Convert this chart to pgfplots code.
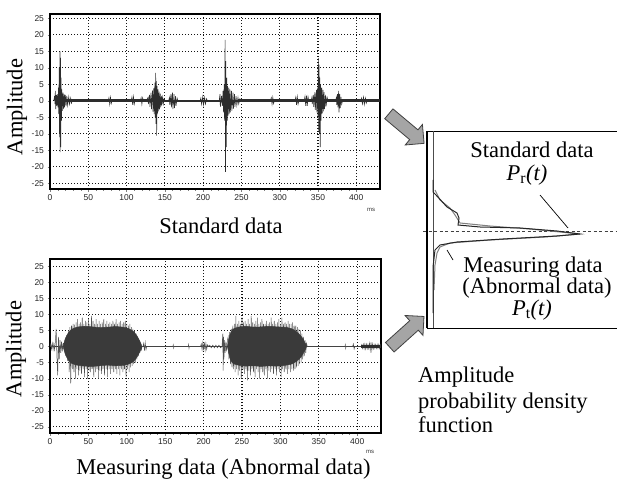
\documentclass[border=0pt]{standalone}
\usepackage{pgfplots}
\pgfplotsset{compat=1.18}
\usepackage{fontspec}
\setmainfont{Liberation Serif}
\newfontfamily\tickfont{Liberation Sans}
\usetikzlibrary{shapes.arrows}

\definecolor{wave}{RGB}{45,45,45}
\definecolor{wavelight}{RGB}{80,80,80}
\definecolor{wavecore}{RGB}{58,58,58}
\definecolor{arrowgray}{RGB}{165,165,165}
\definecolor{gridc}{RGB}{20,20,20}

\newcommand\lbl{\fontsize{22.5}{26}\selectfont}

\pgfplotsset{
  wave axis/.style={
    scale only axis,
    xmin=0, xmax=431,
    xtick={0,50,...,400},
    ytick={-25,-20,...,25},
    minor x tick num=4,
    tick pos=left,
    tick align=outside,
    major tick length=2.5pt,
    minor tick length=1.5pt,
    axis line style={black, line width=1.1pt},
    grid=major,
    major grid style={gridc, line width=1.1pt, dash pattern=on 1.4pt off 1.6pt},
    tick label style={font=\tickfont\fontsize{8.5}{8.5}\selectfont, text=black!85},
    /pgf/number format/assume math mode=true,
  },
}

\begin{document}
\begin{tikzpicture}
\useasboundingbox (0pt,0pt) rectangle (617pt,480pt);

% ---- standard data (top) ----
\begin{axis}[wave axis, at={(50pt,291pt)}, anchor=south west,
  width=330pt, height=175pt, ymin=-26.7, ymax=26.3]
\addplot[wave, line width=3.2pt] coordinates {(6,0) (150,0)};
\addplot[wave, line width=3.2pt] coordinates {(245,0) (431,0)};
\addplot[wave, line width=1.4pt] coordinates {(150,0) (245,0)};
\addplot[wave, line width=0.6pt] coordinates {
 (5,0) (6,1.5) (6.5,-1) (7,3) (7.5,-2.5) (8.5,1.8) (9,-1.5) (10,2) (10.5,-2) (11,4) (11.5,-4)
 (12,10) (12.5,-11) (13,15) (13.3,-15.5) (13.7,13) (14,-14) (14.5,7) (15,-6) (15.5,3.5) (16,-3)
 (17,2.5) (17.5,-2.5) (18.5,2) (19,-2) (20,1.8) (21,-1.6) (22,1.5) (23,-1.3) (24.5,1.2) (25.5,-1)
 (27,0.8) (28,-0.7) (29,0)
 (76,0) (77,0.9) (78,-1) (79,1) (80,-0.8) (81,0)
 (106,0) (107,1.1) (108,-1.2) (109,1.2) (110,-1) (111,0)
 (118,0) (119,0.9) (120,-1) (121,0.9) (122,0)
 (126,0) (128,1) (128.5,-1) (130,1.8) (130.5,-1.8) (132,2.5) (132.5,-2.5) (134,3.2) (134.5,-3.3)
 (135.5,3.8) (136,-4) (137,5.5) (137.5,-5) (138,8.5) (138.5,-7) (139,6) (139.3,-10.5) (139.8,4.5)
 (140.3,-4) (141,3.5) (141.5,-3.2) (142.5,2.8) (143,-2.6) (144,2.2) (144.5,-2) (145.5,1.5)
 (146,-1.4) (147,1) (148,-0.9) (149,0.6) (150,0)
 (155,0) (156,1) (156.5,-1.2) (158,2) (158.5,-2) (160,2.5) (160.5,-2.5) (162,2) (162.5,-2.2)
 (164,1.4) (164.5,-1.5) (166,0.8) (167,0)
 (196,0) (197,0.8) (198,-1) (199.5,1.2) (200.5,-1.2) (202,1) (203,-0.9) (204.5,0.6) (205.5,0)
 (221,0) (222,2) (222.5,-1.8) (224,1.5) (225,-1.5) (226,3) (226.5,-3.5) (227.5,5) (228,-6)
 (228.7,18.5) (229.2,-21.5) (229.7,12) (230.2,-14) (231,7) (231.5,-6) (232,4.5) (232.5,-4.5)
 (233.5,4) (234,-4) (235,3.5) (235.5,-3.5) (237,3) (237.5,-3) (239,2.5) (239.5,-2.4) (241,2)
 (241.5,-1.8) (243,1.4) (244,-1.3) (245.5,1) (246.5,-0.9) (248,0.6) (249,0)
 (288,0) (289,0.9) (290,-1) (291,1) (292,-0.8) (293,0)
 (320,0) (321,1.1) (322,-1.2) (323,1.2) (324,-1) (325,0)
 (332,0) (333,1.3) (334,-1.5) (335,1.6) (336,-1.5) (337,1.2) (338,0)
 (341,0) (342,1) (342.5,-1) (344,1.8) (344.5,-1.8) (346,2.6) (346.5,-2.7) (348,3.3) (348.5,-3.5)
 (349.5,4) (350,-4.5) (350.5,13) (351,-9) (351.5,11) (352,-10) (352.5,7) (353,-14) (353.5,5)
 (354,-6) (355,4) (355.5,-3.8) (356.5,3.3) (357,-3.2) (358,2.6) (358.5,-2.5) (360,1.8)
 (360.5,-1.7) (362,1) (363,0)
 (373,0) (374,1) (374.5,-1.2) (375.5,2) (376,-2) (377,3) (377.5,-3.5) (378.5,2) (379,-2.2)
 (380,1.2) (381,-1) (382,0)
 (406,0) (407,0.8) (408,-0.9) (409.5,1.1) (410.5,-1.1) (412,0.8) (413,-0.7) (414,0)
};
\end{axis}

% ---- measuring data (bottom) ----
\begin{axis}[wave axis, at={(50pt,47pt)}, anchor=south west,
  width=331pt, height=174pt, ymin=-26.9, ymax=27.2]
\addplot[wave, line width=1.4pt] coordinates {(0,0) (431,0)};
\addplot[wavelight, line width=0.5pt] coordinates {
 (0,0) (1,0.8) (2,-0.8) (3,1) (4,-1) (5,0.8) (6,-1) (7,1.5) (8,5.5) (9,-3) (10,-9) (11,3) (12,-4)
 (13,2) (14,-2) (15,1.5) (16,-1.5) (17,1)
 (18,1) (19,-1.5) (20,2.5) (21,-3) (22,3.5) (23,-4.5) (24,5) (25,-8) (26,6) (27,-11.5) (28,6.5)
 (29,-7) (30,7) (31,-8) (32,6.8) (33,-10) (34,7.5) (35,-7) (36,8.5) (37,-9) (38,7) (39,-7.5)
 (40,7.5) (41,-8.5) (42,9) (43,-7) (44,7) (45,-9.5) (46,8) (47,-7) (48,7.5) (49,-10) (50,8.5)
 (51,-7.5) (52,7) (53,-8) (54,9.5) (55,-7) (56,8) (57,-9.5) (58,7) (59,-8) (60,8.5) (61,-7)
 (62,7) (63,-10) (64,8) (65,-7.5) (66,7) (67,-8.5) (68,7.5) (69,-7) (70,8.5) (71,-9) (72,7)
 (73,-7) (74,8) (75,-9.5) (76,7) (77,-7) (78,7.5) (79,-8.5) (80,7) (81,-7) (82,8) (83,-8)
 (84,7) (85,-7) (86,8.5) (87,-8.5) (88,7) (89,-7) (90,7.5) (91,-9) (92,8) (93,-7) (94,7)
 (95,-8) (96,7.5) (97,-7) (98,8) (99,-9.5) (100,7) (101,-7) (102,6.5) (103,-8) (104,7)
 (105,-6.5) (106,6) (107,-6) (108,5.5) (109,-5.5) (110,5) (111,-5) (112,4) (113,-4) (114,3)
 (115,-3) (116,2) (117,-2) (118,1) (119,-1) (120,0)
 (121,0) (122,1) (123,-1.3) (124,1.2) (125,-1) (126,0)
 (160,0) (160.5,0.5) (161,-0.5) (161.5,0)
 (180,0) (180.5,0.6) (181,-0.6) (181.5,0)
 (196,0) (197,0.8) (198,-1) (199,1.2) (200,-1.2) (201,1.3) (202,-1.2) (203,1) (204,-0.9)
 (205,0.5) (206,0)
 (208,0.4) (210,-0.4) (212,0.4) (214,-0.4) (216,0.4) (218,-0.4) (220,0.4) (222,-0.4)
 (224,0) (225,4) (225.5,-7.5) (226,3) (226.5,-4) (227,2) (228,-2) (229,1.5) (230,-1.5) (231,2)
 (232,3) (233,-4) (234,4.5) (235,-5.5) (236,5.5) (237,-6.5) (238,6.5) (239,-7) (240,7) (241,-8)
 (242,9.5) (243,-7) (244,7) (245,-9) (246,8) (247,-7.5) (248,7) (249,-10) (250,9) (251,-7)
 (252,7.5) (253,-8.5) (254,8) (255,-7) (256,7) (257,-10.5) (258,8.5) (259,-7.5) (260,7)
 (261,-9) (262,9.5) (263,-7) (264,7.5) (265,-8) (266,7) (267,-9.5) (268,8) (269,-7) (270,9)
 (271,-8) (272,7) (273,-10) (274,7.5) (275,-7) (276,8.5) (277,-8) (278,7) (279,-9) (280,7)
 (281,-7) (282,8) (283,-10) (284,7) (285,-7.5) (286,7.5) (287,-8) (288,9) (289,-7) (290,7)
 (291,-8.5) (292,8) (293,-7) (294,7) (295,-9) (296,7.5) (297,-7) (298,8.5) (299,-8) (300,7)
 (301,-9.5) (302,9) (303,-7) (304,7) (305,-8) (306,7.5) (307,-7) (308,7) (309,-8.5) (310,8)
 (311,-7) (312,7) (313,-8) (314,7) (315,-7) (316,7.5) (317,-7.5) (318,6.5) (319,-7) (320,6.5)
 (321,-6.5) (322,6) (323,-6) (324,5.5) (325,-5.5) (326,5) (327,-5) (328,4) (329,-4) (330,3)
 (331,-3) (332,2) (333,-2) (334,1) (335,0)
 (384,0) (384.5,0.6) (385,-0.6) (385.5,0)
 (394,0) (395,0.8) (396,-0.8) (397,0)
 (405,0) (406,0.6) (407,-0.6) (408,0.7) (409,-0.7) (410,0.8) (411,-0.8) (412,0.7) (413,-0.7)
 (414,0.6) (415,-0.6) (416,1) (417,-1.2) (418,1.3) (419,-1.2) (420,0.8) (421,-0.7) (422,0.6)
 (423,-0.6) (424,0.6) (425,-0.6) (426,0.6) (427,-0.6) (428,0.6) (429,-0.6) (430,0.6) (431,0)
};
\addplot[wavecore, fill=wavecore, line width=0.4pt, smooth] coordinates {
 (17,0) (20,2.5) (24,4.3) (28,5.3) (35,6) (45,6.3) (55,6.1) (65,5.9) (75,6) (85,6.2) (95,6)
 (102,5.6) (108,4.8) (113,3.4) (117,1.6) (119.5,0)
 (117,-1.6) (113,-3.4) (108,-4.8) (102,-5.5) (95,-5.9) (85,-6) (75,-5.8) (65,-6) (55,-6.2)
 (45,-6.1) (35,-5.8) (28,-5.2) (24,-4.3) (20,-2.5)
} -- cycle;
\addplot[wavecore, fill=wavecore, line width=0.4pt, smooth] coordinates {
 (231,0) (234,3.5) (238,5.3) (245,6) (255,6.3) (265,6) (275,6.1) (285,6.3) (295,6.1)
 (305,6) (314,5.6) (321,4.6) (327,3.2) (331,1.6) (334,0)
 (331,-1.6) (327,-3.2) (321,-4.6) (314,-5.5) (305,-5.9) (295,-6.1) (285,-6) (275,-6.2)
 (265,-6) (255,-6.1) (245,-5.8) (238,-5.2) (234,-3.5)
} -- cycle;
\addplot[wave, line width=2.2pt] coordinates {(405,0) (431,0)};
\end{axis}

% ---- amplitude probability density function (right) ----
\begin{axis}[at={(427pt,152pt)}, anchor=south west, scale only axis,
  width=190pt, height=197pt, xmin=-6, xmax=184, ymin=-24.25, ymax=25,
  hide axis, clip=false]
\draw[black, line width=0.9pt] (rel axis cs:1,1) -- (rel axis cs:0,1) -- (rel axis cs:0,0) -- (rel axis cs:1,0);
\draw[black, line width=1.6pt] (rel axis cs:0,0) -- (rel axis cs:0,1);
\draw[black!70, line width=0.9pt] (axis cs:0,-24.25) -- (axis cs:0,25);
\draw[black!75, dash pattern=on 3pt off 2.5pt, line width=0.6pt] (axis cs:-10,0) -- (axis cs:184,0);
\addplot[black!50, line width=1pt] coordinates {
 (2,10.25) (7,7.75) (17,5.75) (22,4) (27,2) (57,1.25) (97,0.5) (147,-0.75) (112,-1.5)
 (57,-2.25) (17,-3) (7,-4) (4,-5.5) (2,-8.5) (1,-14.75)
};
\addplot[black!85, line width=1pt] coordinates {
 (0,12.75) (0,9.75) (3,9) (14,6) (24,4.5) (26,3.25) (25,1.5) (47,1) (87,0.75) (124,0)
 (147,-0.75) (124,-1.25) (70,-2) (24,-2.75) (7,-3.5) (2,-4.75) (0,-9) (0,-20.5)
};
\draw[black, line width=0.7pt] (axis cs:107,9) -- (axis cs:135,0.75);
\draw[black, line width=0.7pt] (axis cs:14,-4.75) -- (axis cs:20,-7.25);
\end{axis}

% ---- arrows ----
\node[single arrow, draw=black!75, fill=arrowgray, line width=0.8pt, minimum height=46pt,
  single arrow head extend=7pt, inner sep=6pt, rotate=-40] at (404pt,353.5pt) {};
\node[single arrow, draw=black!75, fill=arrowgray, line width=0.8pt, minimum height=46pt,
  single arrow head extend=7pt, inner sep=6pt, rotate=42] at (404.5pt,146pt) {};

% ---- texts ----
\node[anchor=base, font=\lbl, inner sep=0pt] at (221pt,247pt) {Standard data};
\node[anchor=base, font=\lbl, inner sep=0pt] at (223.5pt,6pt) {Measuring data (Abnormal data)};
\node[rotate=90, font=\lbl] at (17pt,373pt) {Amplitude};
\node[rotate=90, font=\lbl] at (16pt,131pt) {Amplitude};
\node[font=\tickfont\fontsize{6}{6}\selectfont, text=black!80] at (371pt,270pt) {ms};
\node[font=\tickfont\fontsize{6}{6}\selectfont, text=black!80] at (370pt,28pt) {ms};

\node[anchor=base, font=\lbl, inner sep=0pt] at (532pt,323pt) {Standard data};
\node[anchor=base, font=\lbl, inner sep=0pt] at (527pt,300pt) {\textit{P}\textsubscript{r}\textit{(t)}};
\node[anchor=base, font=\lbl, inner sep=0pt] at (533pt,208pt) {Measuring data};
\node[anchor=base, font=\lbl, inner sep=0pt] at (537pt,187pt) {(Abnormal data)};
\node[anchor=base, font=\lbl, inner sep=0pt] at (532pt,165pt) {\textit{P}\textsubscript{t}\textit{(t)}};
\node[anchor=base west, font=\lbl, inner sep=0pt] at (418pt,98pt) {Amplitude};
\node[anchor=base west, font=\lbl, inner sep=0pt] at (418pt,72pt) {probability density};
\node[anchor=base west, font=\lbl, inner sep=0pt] at (418pt,48pt) {function};
\end{tikzpicture}
\end{document}
